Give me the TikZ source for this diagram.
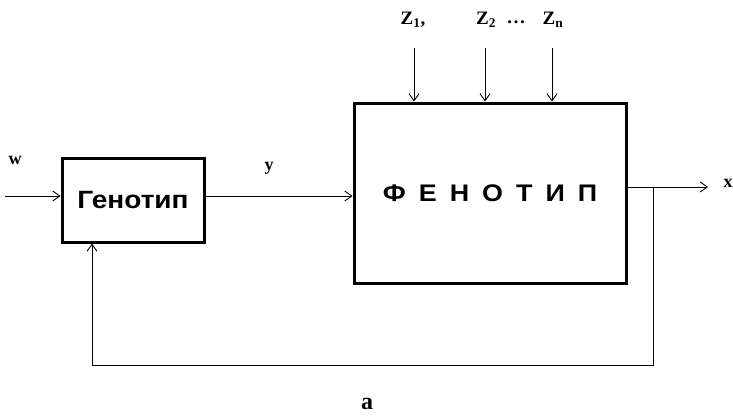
\documentclass[tikz,border=0pt]{standalone}
\usepackage{fontspec}
\setmainfont{Liberation Serif}
\newfontfamily\boxfont[FakeStretch=1.12]{Liberation Sans}
\usetikzlibrary{arrows.meta}
\tikzset{
  blk/.style={draw, line width=3pt, inner sep=0pt},
  arr/.style={line width=0.9pt, -{Straight Barb[length=7pt,width=10pt,line width=0.9pt]}},
  lbl/.style={inner sep=0pt, font=\bfseries\fontsize{18}{18}\selectfont},
  zlbl/.style={inner sep=0pt, font=\bfseries\fontsize{19}{19}\selectfont}
}
\newcommand{\lsp}{\hspace{13pt}}
\begin{document}
\begin{tikzpicture}[x=1pt,y=-1pt]
\useasboundingbox[fill=white] (0,0) rectangle (733,416);
\node[blk, minimum width=142pt, minimum height=84pt, font=\boxfont\bfseries\fontsize{25}{25}\selectfont] (gen) at (133,200) {Генотип};
\node[blk, minimum width=272pt, minimum height=180pt, font=\boxfont\bfseries\fontsize{24}{24}\selectfont] (phen) at (490,193)
  {Ф\lsp Е\lsp Н\lsp О\lsp Т\lsp И\lsp П};
% input w
\coordinate (win) at (5,196);
\node[lbl] (w) at (15,160) {w};
\draw[arr] (win) -- (win -| gen.west);
% y
\draw[arr] (gen.east |- win) -- (phen.west |- win);
\node[lbl] (y) at (269,168) {y};
% Z inputs
\coordinate (z1s) at (414,48);
\coordinate (z2s) at (485,48);
\coordinate (zns) at (552,48);
\draw[arr] (z1s) -- (z1s |- phen.north);
\draw[arr] (z2s) -- (z2s |- phen.north);
\draw[arr] (zns) -- (zns |- phen.north);
\node[zlbl] (z1) at (413,20) {Z\textsubscript{1},};
\node[zlbl] (z2) at (486,20) {Z\textsubscript{2}};
\node[zlbl] (dots) at (516,22) {\dots};
\node[zlbl] (zn) at (553,20) {Z\textsubscript{n}};
% output x
\coordinate (xo) at (626,187);
\coordinate (xend) at (708,187);
\coordinate (j) at (653,187);
\draw[arr] (xo) -- (xend);
\node[lbl] (x) at (728,183) {x};
% feedback
\coordinate (fb) at (92,365);
\draw[arr] (j) |- (fb) -- (fb |- gen.south);
\node[inner sep=0pt, font=\bfseries\fontsize{24}{24}\selectfont] (a) at (367,404) {a};
\end{tikzpicture}
\end{document}
